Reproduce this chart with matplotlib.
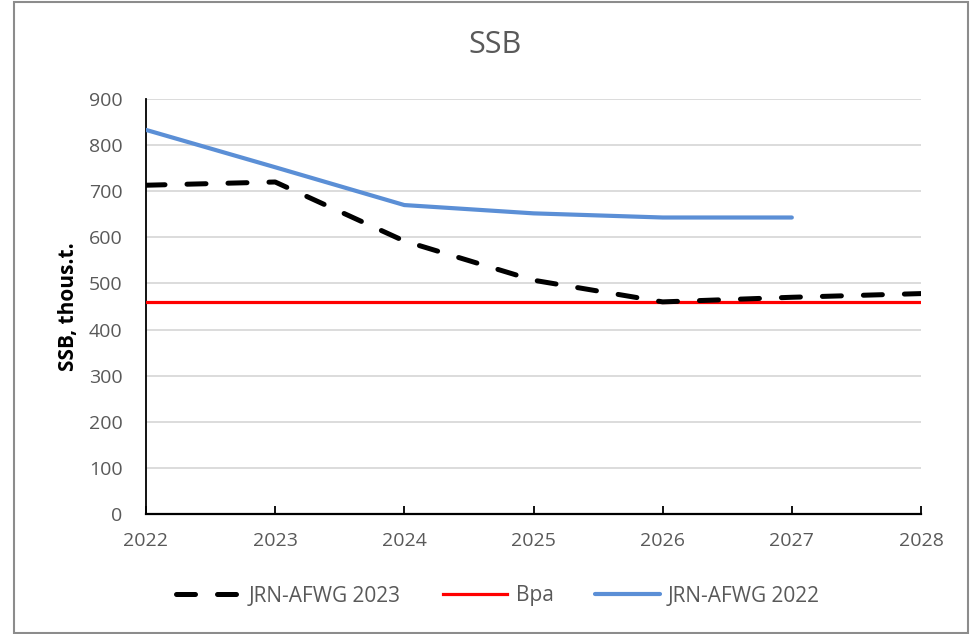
import matplotlib.pyplot as plt
from matplotlib.patches import Rectangle

plt.rcParams['font.family'] = ['Open Sans', 'DejaVu Sans']

# data
years = [2022, 2023, 2024, 2025, 2026, 2027, 2028]
jrn_2023 = [713, 720, 592, 507, 460, 470, 478]
bpa = [460] * 7
years_2022 = [2022, 2023, 2024, 2025, 2026, 2027]
jrn_2022 = [833, 752, 670, 652, 643, 643]

fig = plt.figure(figsize=(9.74, 6.34), dpi=100)
ax = fig.add_axes([146 / 974, 1 - 514 / 634, 775 / 974, 415 / 634])

ax.plot(years, jrn_2023, color='black', lw=3.6, dashes=(3.8, 4.4),
        dash_capstyle='round', label='JRN-AFWG 2023', zorder=4)
ax.plot(years, bpa, color='#ff0000', lw=2.3, label='Bpa', zorder=3)
ax.plot(years_2022, jrn_2022, color='#5b8fd6', lw=3.0,
        solid_capstyle='round', label='JRN-AFWG 2022', zorder=3)

ax.set_xlim(2022, 2028)
ax.set_ylim(0, 900)
ax.set_yticks(range(0, 901, 100))
ax.set_xticks(years)
ax.grid(axis='y', color='#d9d9d9', lw=1.3)
ax.set_axisbelow(True)
for s in ['top', 'right']:
    ax.spines[s].set_visible(False)
ax.spines['left'].set_linewidth(1.3)
ax.spines['bottom'].set_linewidth(1.6)
ax.tick_params(axis='y', length=0, pad=17, labelsize=14, labelcolor='#595959')
ax.tick_params(axis='x', direction='in', length=6, width=1.3, pad=13,
               labelsize=14, labelcolor='#595959')

ax.set_ylabel('SSB, thous.t.', fontsize=15, fontweight='bold', labelpad=7)
fig.text(495 / 974, 1 - 45 / 634, 'SSB', fontsize=22, color='#595959',
         ha='center', va='center')

ax.legend(loc='center', bbox_to_anchor=(498 / 974, 1 - 596 / 634),
          bbox_transform=fig.transFigure, ncol=3, frameon=False,
          fontsize=15, labelcolor='#595959', handlelength=3.1,
          handletextpad=0.4, columnspacing=2.0)

# chart frame
fig.patches.append(Rectangle((14 / 974, 1 / 634), 954 / 974, 631 / 634,
                             transform=fig.transFigure, fill=False,
                             edgecolor='#8c8c8c', lw=1.5))

plt.savefig('out.png')
